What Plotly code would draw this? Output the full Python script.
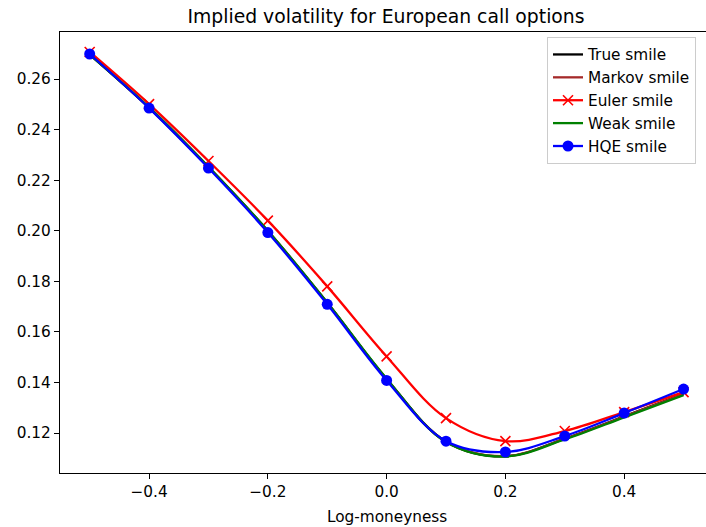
import plotly.graph_objects as go

log_moneyness = [-0.5, -0.4, -0.3, -0.2, -0.1, 0.0, 0.1, 0.2, 0.3, 0.4, 0.5]
true_smile = [0.2697, 0.2487, 0.2252, 0.1999, 0.1715, 0.1414, 0.1166, 0.1108, 0.1178, 0.1266, 0.1355]
markov_smile = [0.2698, 0.2487, 0.2252, 0.1999, 0.1715, 0.1414, 0.1166, 0.1109, 0.1177, 0.1265, 0.1354]
euler_smile = [0.2707, 0.2501, 0.2276, 0.2040, 0.1780, 0.1503, 0.1259, 0.1168, 0.1208, 0.1283, 0.1362]
weak_smile = [0.2697, 0.2488, 0.2253, 0.2000, 0.1716, 0.1415, 0.1165, 0.1107, 0.1175, 0.1262, 0.1350]
hqe_smile = [0.2699, 0.2485, 0.2248, 0.1993, 0.1709, 0.1408, 0.1168, 0.1125, 0.1188, 0.1279, 0.1374]

FONT = "DejaVu Sans"
FS = 15.3
LW = 2.3

fig = go.Figure()
fig.add_trace(go.Scatter(x=log_moneyness, y=true_smile, mode="lines", name="True smile",
                         line=dict(color="black", width=LW, shape="spline")))
fig.add_trace(go.Scatter(x=log_moneyness, y=markov_smile, mode="lines", name="Markov smile",
                         line=dict(color="#a52a2a", width=LW, shape="spline")))
fig.add_trace(go.Scatter(x=log_moneyness, y=euler_smile, mode="lines+markers", name="Euler smile",
                         line=dict(color="red", width=LW, shape="spline"),
                         marker=dict(symbol="x-thin", size=10, color="red",
                                     line=dict(color="red", width=1.6))))
fig.add_trace(go.Scatter(x=log_moneyness, y=weak_smile, mode="lines", name="Weak smile",
                         line=dict(color="green", width=LW, shape="spline")))
fig.add_trace(go.Scatter(x=log_moneyness, y=hqe_smile, mode="lines+markers", name="HQE smile",
                         line=dict(color="blue", width=LW, shape="spline"),
                         marker=dict(symbol="circle", size=11, color="blue")))

fig.update_layout(
    width=706, height=527,
    margin=dict(l=60, r=0, t=32, b=54, autoexpand=False),
    plot_bgcolor="white", paper_bgcolor="white",
    font=dict(family=FONT, size=FS, color="black"),
    showlegend=True,
    title=dict(text="Implied volatility for European call options",
               font=dict(family=FONT, size=18.8, color="black"),
               xref="container", x=386 / 706, xanchor="center",
               yref="container", y=1 - 16 / 527, yanchor="middle"),
    legend=dict(x=(547 - 60) / 646, xanchor="left", y=1 - (37 - 32) / 441, yanchor="top",
                bgcolor="white", bordercolor="#cccccc", borderwidth=1,
                font=dict(family=FONT, size=FS, color="black"),
                itemwidth=30, tracegroupgap=0),
    xaxis=dict(range=[-0.55, 0.5378], tickvals=[-0.4, -0.2, 0.0, 0.2, 0.4],
               ticktext=["\u22120.4", "\u22120.2", "0.0", "0.2", "0.4"],
               automargin=False,
               showgrid=False, zeroline=False, showline=True, mirror=True,
               linecolor="black", linewidth=1.2, ticks="outside", ticklen=5,
               tickwidth=1.2, tickcolor="black",
               tickfont=dict(family=FONT, size=FS, color="black")),
    yaxis=dict(range=[0.1042, 0.2786], tickvals=[0.12, 0.14, 0.16, 0.18, 0.20, 0.22, 0.24, 0.26],
               tickformat=".2f", automargin=False,
               showgrid=False, zeroline=False, showline=True, mirror=False,
               linecolor="black", linewidth=1.2, ticks="outside", ticklen=5,
               tickwidth=1.2, tickcolor="black",
               tickfont=dict(family=FONT, size=FS, color="black")),
    annotations=[dict(text="Log-moneyness", xref="x", x=0.0, yref="paper", y=-(517 - 473) / 441,
                      xanchor="center", yanchor="middle", showarrow=False,
                      font=dict(family=FONT, size=FS, color="black"))],
)

fig.write_html("out.html", config={"displayModeBar": False},
               post_script="document.body.style.margin='0';document.body.style.overflow='hidden';")
